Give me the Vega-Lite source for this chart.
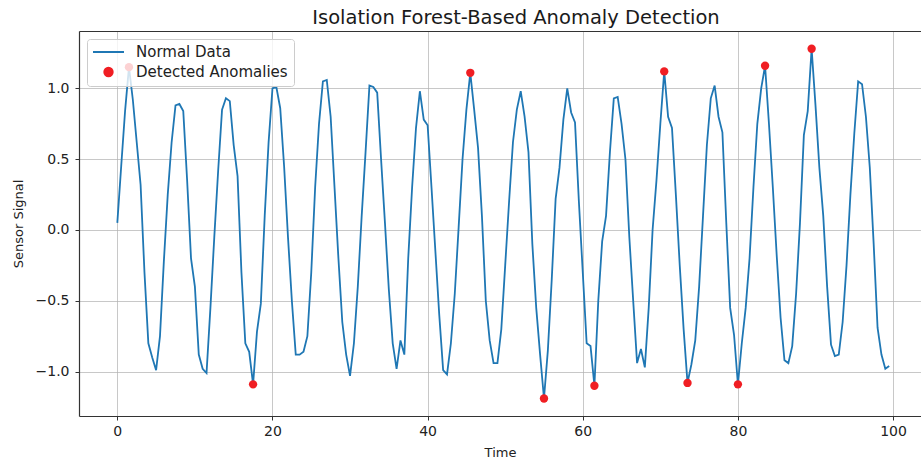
{
  "$schema": "https://vega.github.io/schema/vega-lite/v6.json",
  "autosize": {"type": "none"},
  "padding": {"left": 79, "top": 31, "right": 0, "bottom": 42},
  "width": 842,
  "height": 385,
  "background": "white",
  "title": {"text": "Isolation Forest-Based Anomaly Detection", "fontSize": 19.5, "font": "DejaVu Sans", "fontWeight": "normal", "color": "#1a1a1a", "offset": 3, "dx": 16},
  "config": {
    "view": {"stroke": null},
    "font": "DejaVu Sans",
    "axis": {"gridColor": "#b0b0b0", "gridOpacity": 0.7, "gridWidth": 1, "domainColor": "#333333", "domainWidth": 1.2, "tickColor": "#333333", "tickSize": 4, "labelFontSize": 14, "labelColor": "#222222", "labelFont": "DejaVu Sans", "titleFont": "DejaVu Sans", "titleFontSize": 13, "titleFontWeight": "normal", "titleColor": "#222222"}
  },
  "data": {"values": [
    {"t":0,"signal":0.05,"anomaly":0},{"t":0.5,"signal":0.45,"anomaly":0},{"t":1,"signal":0.84,"anomaly":0},{"t":1.5,"signal":1.15,"anomaly":1},{"t":2,"signal":0.92,"anomaly":0},{"t":2.5,"signal":0.62,"anomaly":0},{"t":3,"signal":0.32,"anomaly":0},{"t":3.5,"signal":-0.30,"anomaly":0},{"t":4,"signal":-0.80,"anomaly":0},{"t":4.5,"signal":-0.90,"anomaly":0},
    {"t":5,"signal":-0.99,"anomaly":0},{"t":5.5,"signal":-0.75,"anomaly":0},{"t":6,"signal":-0.22,"anomaly":0},{"t":6.5,"signal":0.25,"anomaly":0},{"t":7,"signal":0.62,"anomaly":0},{"t":7.5,"signal":0.88,"anomaly":0},{"t":8,"signal":0.89,"anomaly":0},{"t":8.5,"signal":0.84,"anomaly":0},{"t":9,"signal":0.35,"anomaly":0},{"t":9.5,"signal":-0.20,"anomaly":0},
    {"t":10,"signal":-0.40,"anomaly":0},{"t":10.5,"signal":-0.88,"anomaly":0},{"t":11,"signal":-0.98,"anomaly":0},{"t":11.5,"signal":-1.01,"anomaly":0},{"t":12,"signal":-0.55,"anomaly":0},{"t":12.5,"signal":-0.05,"anomaly":0},{"t":13,"signal":0.42,"anomaly":0},{"t":13.5,"signal":0.85,"anomaly":0},{"t":14,"signal":0.93,"anomaly":0},{"t":14.5,"signal":0.91,"anomaly":0},
    {"t":15,"signal":0.60,"anomaly":0},{"t":15.5,"signal":0.38,"anomaly":0},{"t":16,"signal":-0.30,"anomaly":0},{"t":16.5,"signal":-0.80,"anomaly":0},{"t":17,"signal":-0.86,"anomaly":0},{"t":17.5,"signal":-1.09,"anomaly":1},{"t":18,"signal":-0.72,"anomaly":0},{"t":18.5,"signal":-0.52,"anomaly":0},{"t":19,"signal":0.10,"anomaly":0},{"t":19.5,"signal":0.62,"anomaly":0},
    {"t":20,"signal":1.00,"anomaly":0},{"t":20.5,"signal":1.01,"anomaly":0},{"t":21,"signal":0.86,"anomaly":0},{"t":21.5,"signal":0.45,"anomaly":0},{"t":22,"signal":-0.05,"anomaly":0},{"t":22.5,"signal":-0.50,"anomaly":0},{"t":23,"signal":-0.88,"anomaly":0},{"t":23.5,"signal":-0.88,"anomaly":0},{"t":24,"signal":-0.86,"anomaly":0},{"t":24.5,"signal":-0.75,"anomaly":0},
    {"t":25,"signal":-0.30,"anomaly":0},{"t":25.5,"signal":0.30,"anomaly":0},{"t":26,"signal":0.75,"anomaly":0},{"t":26.5,"signal":1.05,"anomaly":0},{"t":27,"signal":1.06,"anomaly":0},{"t":27.5,"signal":0.80,"anomaly":0},{"t":28,"signal":0.30,"anomaly":0},{"t":28.5,"signal":-0.20,"anomaly":0},{"t":29,"signal":-0.65,"anomaly":0},{"t":29.5,"signal":-0.88,"anomaly":0},
    {"t":30,"signal":-1.03,"anomaly":0},{"t":30.5,"signal":-0.80,"anomaly":0},{"t":31,"signal":-0.40,"anomaly":0},{"t":31.5,"signal":0.10,"anomaly":0},{"t":32,"signal":0.55,"anomaly":0},{"t":32.5,"signal":1.02,"anomaly":0},{"t":33,"signal":1.01,"anomaly":0},{"t":33.5,"signal":0.97,"anomaly":0},{"t":34,"signal":0.50,"anomaly":0},{"t":34.5,"signal":0.05,"anomaly":0},
    {"t":35,"signal":-0.42,"anomaly":0},{"t":35.5,"signal":-0.80,"anomaly":0},{"t":36,"signal":-0.98,"anomaly":0},{"t":36.5,"signal":-0.78,"anomaly":0},{"t":37,"signal":-0.88,"anomaly":0},{"t":37.5,"signal":-0.20,"anomaly":0},{"t":38,"signal":0.30,"anomaly":0},{"t":38.5,"signal":0.72,"anomaly":0},{"t":39,"signal":0.98,"anomaly":0},{"t":39.5,"signal":0.78,"anomaly":0},
    {"t":40,"signal":0.74,"anomaly":0},{"t":40.5,"signal":0.30,"anomaly":0},{"t":41,"signal":-0.15,"anomaly":0},{"t":41.5,"signal":-0.60,"anomaly":0},{"t":42,"signal":-0.99,"anomaly":0},{"t":42.5,"signal":-1.02,"anomaly":0},{"t":43,"signal":-0.80,"anomaly":0},{"t":43.5,"signal":-0.45,"anomaly":0},{"t":44,"signal":0.02,"anomaly":0},{"t":44.5,"signal":0.50,"anomaly":0},
    {"t":45,"signal":0.85,"anomaly":0},{"t":45.5,"signal":1.11,"anomaly":1},{"t":46,"signal":0.85,"anomaly":0},{"t":46.5,"signal":0.58,"anomaly":0},{"t":47,"signal":0.10,"anomaly":0},{"t":47.5,"signal":-0.50,"anomaly":0},{"t":48,"signal":-0.78,"anomaly":0},{"t":48.5,"signal":-0.94,"anomaly":0},{"t":49,"signal":-0.94,"anomaly":0},{"t":49.5,"signal":-0.70,"anomaly":0},
    {"t":50,"signal":-0.25,"anomaly":0},{"t":50.5,"signal":0.20,"anomaly":0},{"t":51,"signal":0.62,"anomaly":0},{"t":51.5,"signal":0.85,"anomaly":0},{"t":52,"signal":0.98,"anomaly":0},{"t":52.5,"signal":0.80,"anomaly":0},{"t":53,"signal":0.55,"anomaly":0},{"t":53.5,"signal":-0.10,"anomaly":0},{"t":54,"signal":-0.55,"anomaly":0},{"t":54.5,"signal":-0.88,"anomaly":0},
    {"t":55,"signal":-1.19,"anomaly":1},{"t":55.5,"signal":-0.85,"anomaly":0},{"t":56,"signal":-0.35,"anomaly":0},{"t":56.5,"signal":0.22,"anomaly":0},{"t":57,"signal":0.44,"anomaly":0},{"t":57.5,"signal":0.78,"anomaly":0},{"t":58,"signal":1.00,"anomaly":0},{"t":58.5,"signal":0.83,"anomaly":0},{"t":59,"signal":0.76,"anomaly":0},{"t":59.5,"signal":0.20,"anomaly":0},
    {"t":60,"signal":-0.30,"anomaly":0},{"t":60.5,"signal":-0.80,"anomaly":0},{"t":61,"signal":-0.82,"anomaly":0},{"t":61.5,"signal":-1.10,"anomaly":1},{"t":62,"signal":-0.50,"anomaly":0},{"t":62.5,"signal":-0.08,"anomaly":0},{"t":63,"signal":0.10,"anomaly":0},{"t":63.5,"signal":0.55,"anomaly":0},{"t":64,"signal":0.93,"anomaly":0},{"t":64.5,"signal":0.94,"anomaly":0},
    {"t":65,"signal":0.75,"anomaly":0},{"t":65.5,"signal":0.50,"anomaly":0},{"t":66,"signal":-0.05,"anomaly":0},{"t":66.5,"signal":-0.50,"anomaly":0},{"t":67,"signal":-0.94,"anomaly":0},{"t":67.5,"signal":-0.84,"anomaly":0},{"t":68,"signal":-0.97,"anomaly":0},{"t":68.5,"signal":-0.55,"anomaly":0},{"t":69,"signal":0.00,"anomaly":0},{"t":69.5,"signal":0.35,"anomaly":0},
    {"t":70,"signal":0.75,"anomaly":0},{"t":70.5,"signal":1.12,"anomaly":1},{"t":71,"signal":0.80,"anomaly":0},{"t":71.5,"signal":0.72,"anomaly":0},{"t":72,"signal":0.25,"anomaly":0},{"t":72.5,"signal":-0.25,"anomaly":0},{"t":73,"signal":-0.70,"anomaly":0},{"t":73.5,"signal":-1.08,"anomaly":1},{"t":74,"signal":-0.95,"anomaly":0},{"t":74.5,"signal":-0.78,"anomaly":0},
    {"t":75,"signal":-0.40,"anomaly":0},{"t":75.5,"signal":0.10,"anomaly":0},{"t":76,"signal":0.60,"anomaly":0},{"t":76.5,"signal":0.93,"anomaly":0},{"t":77,"signal":1.02,"anomaly":0},{"t":77.5,"signal":0.80,"anomaly":0},{"t":78,"signal":0.69,"anomaly":0},{"t":78.5,"signal":0.05,"anomaly":0},{"t":79,"signal":-0.55,"anomaly":0},{"t":79.5,"signal":-0.74,"anomaly":0},
    {"t":80,"signal":-1.09,"anomaly":1},{"t":80.5,"signal":-0.80,"anomaly":0},{"t":81,"signal":-0.55,"anomaly":0},{"t":81.5,"signal":-0.20,"anomaly":0},{"t":82,"signal":0.30,"anomaly":0},{"t":82.5,"signal":0.75,"anomaly":0},{"t":83,"signal":1.00,"anomaly":0},{"t":83.5,"signal":1.16,"anomaly":1},{"t":84,"signal":0.75,"anomaly":0},{"t":84.5,"signal":0.30,"anomaly":0},
    {"t":85,"signal":-0.18,"anomaly":0},{"t":85.5,"signal":-0.62,"anomaly":0},{"t":86,"signal":-0.92,"anomaly":0},{"t":86.5,"signal":-0.94,"anomaly":0},{"t":87,"signal":-0.82,"anomaly":0},{"t":87.5,"signal":-0.45,"anomaly":0},{"t":88,"signal":0.05,"anomaly":0},{"t":88.5,"signal":0.67,"anomaly":0},{"t":89,"signal":0.84,"anomaly":0},{"t":89.5,"signal":1.28,"anomaly":1},
    {"t":90,"signal":0.88,"anomaly":0},{"t":90.5,"signal":0.44,"anomaly":0},{"t":91,"signal":0.10,"anomaly":0},{"t":91.5,"signal":-0.40,"anomaly":0},{"t":92,"signal":-0.81,"anomaly":0},{"t":92.5,"signal":-0.89,"anomaly":0},{"t":93,"signal":-0.88,"anomaly":0},{"t":93.5,"signal":-0.65,"anomaly":0},{"t":94,"signal":-0.25,"anomaly":0},{"t":94.5,"signal":0.25,"anomaly":0},
    {"t":95,"signal":0.68,"anomaly":0},{"t":95.5,"signal":1.05,"anomaly":0},{"t":96,"signal":1.03,"anomaly":0},{"t":96.5,"signal":0.80,"anomaly":0},{"t":97,"signal":0.44,"anomaly":0},{"t":97.5,"signal":-0.10,"anomaly":0},{"t":98,"signal":-0.69,"anomaly":0},{"t":98.5,"signal":-0.88,"anomaly":0},{"t":99,"signal":-0.98,"anomaly":0},{"t":99.5,"signal":-0.96,"anomaly":0}
  ]},
  "layer": [
    {
      "mark": {"type": "line", "strokeWidth": 1.8},
      "encoding": {
        "x": {"field": "t", "type": "quantitative", "scale": {"domain": [-4.94, 103.6], "nice": false, "zero": false},
              "axis": {"values": [0, 20, 40, 60, 80, 100], "title": "Time", "labelPadding": 4, "titlePadding": 8, "grid": true}},
        "y": {"field": "signal", "type": "quantitative", "scale": {"domain": [-1.3136, 1.4054], "nice": false, "zero": false},
              "axis": {"values": [-1, -0.5, 0, 0.5, 1], "format": ".1f", "title": "Sensor Signal", "labelPadding": 6, "titlePadding": 10, "grid": true}},
        "color": {"datum": "Normal Data", "type": "nominal",
                  "scale": {"domain": ["Normal Data", "Detected Anomalies"], "range": ["#1f77b4", "#f01e23"]},
                  "legend": {"orient": "top-left", "offset": 8, "zindex": 1, "title": null, "symbolType": "stroke", "symbolSize": 900, "symbolStrokeWidth": 2, "symbolOffset": 8,
                             "labelFontSize": 15, "labelColor": "#222222", "labelFont": "DejaVu Sans", "clipHeight": 14, "rowPadding": 5, "padding": 6,
                             "fillColor": "rgba(255,255,255,0.8)", "strokeColor": "#cccccc", "cornerRadius": 3, "labelOffset": 20,
                             "encode": {"symbols": {"update": {
                               "shape": {"signal": "datum.value === 'Normal Data' ? 'stroke' : 'circle'"},
                               "size": {"signal": "datum.value === 'Normal Data' ? 961 : 70"},
                               "fill": {"signal": "datum.value === 'Normal Data' ? 'transparent' : '#f01e23'"},
                               "stroke": {"signal": "datum.value === 'Normal Data' ? '#1f77b4' : 'transparent'"},
                               "strokeWidth": {"value": 2},
                               "opacity": {"value": 1}
                             }}}}}
      }
    },
    {
      "transform": [{"filter": "datum.anomaly == 1"}],
      "mark": {"type": "point", "filled": true, "size": 70, "opacity": 1},
      "encoding": {
        "x": {"field": "t", "type": "quantitative", "axis": {"orient": "top", "labels": false, "ticks": false, "grid": false, "title": null, "domain": true}},
        "y": {"field": "signal", "type": "quantitative"},
        "color": {"datum": "Detected Anomalies", "type": "nominal"}
      }
    }
  ],
  "resolve": {"axis": {"x": "independent"}}
}
